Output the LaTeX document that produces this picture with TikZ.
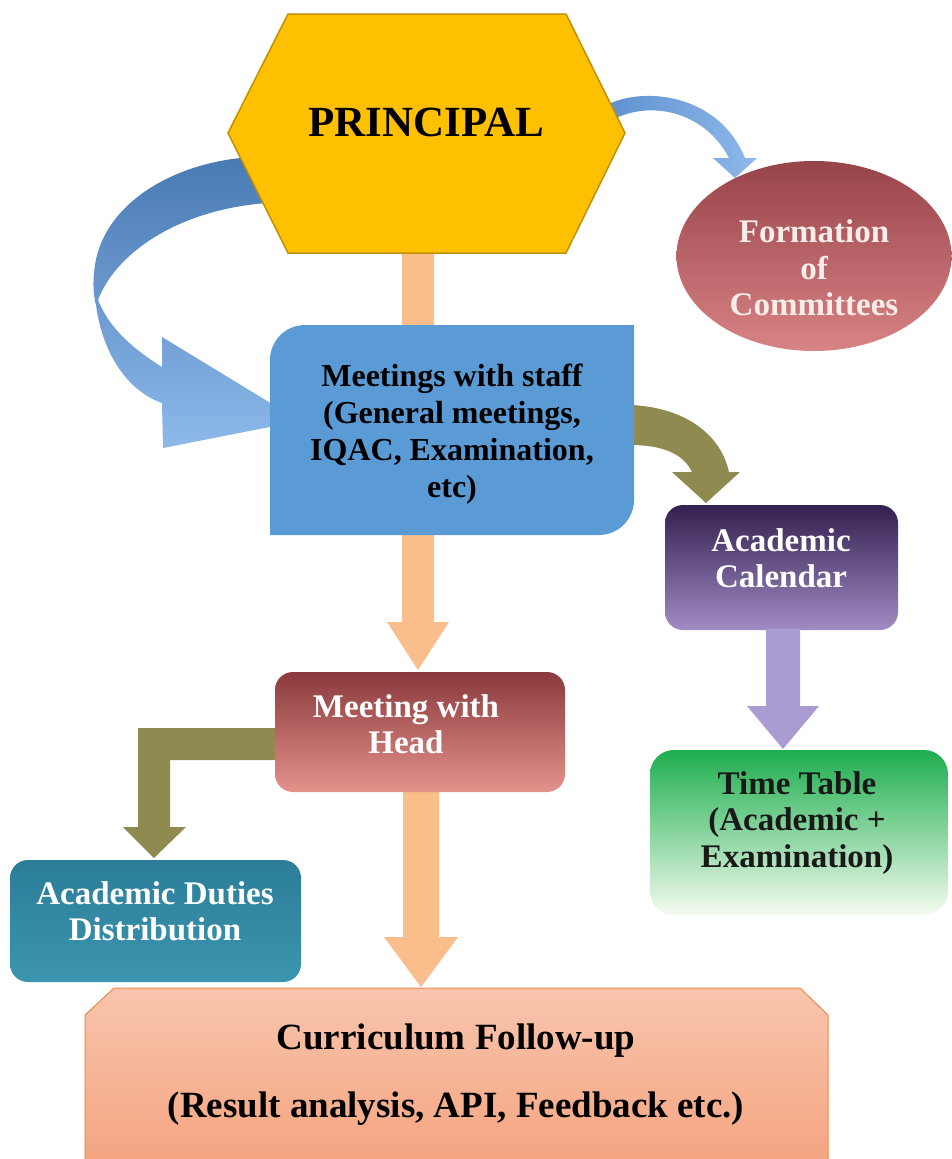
\documentclass[tikz,border=0pt]{standalone}
\usepackage{fontspec}
\setmainfont{Liberation Serif}
\usetikzlibrary{shapes.geometric,calc}
\definecolor{hexfill}{HTML}{FFC000}
\definecolor{hexline}{HTML}{BF9000}
\definecolor{bigtop}{HTML}{4A7AB4}
\definecolor{bigbot}{HTML}{8DB9EA}
\definecolor{smallA}{HTML}{5F90CF}
\definecolor{smallB}{HTML}{8DB9EA}
\definecolor{orng}{HTML}{F9BE8B}
\definecolor{meetblue}{HTML}{5B9BD5}
\definecolor{olive}{HTML}{8F8A50}
\definecolor{formtop}{HTML}{97434A}
\definecolor{formbot}{HTML}{D88485}
\definecolor{formtxt}{HTML}{F8EDE8}
\definecolor{caltop}{HTML}{33204F}
\definecolor{calbot}{HTML}{A08CC4}
\definecolor{purp}{HTML}{AA9BD2}
\definecolor{tttop}{HTML}{1DAE4E}
\definecolor{ttmid}{HTML}{A3DB8F}
\definecolor{ttbot}{HTML}{F4FBEF}
\definecolor{mhtop}{HTML}{8A3A3C}
\definecolor{mhbot}{HTML}{E4928C}
\definecolor{adtop}{HTML}{2B7D98}
\definecolor{adbot}{HTML}{3C95AF}
\definecolor{currtop}{HTML}{F8C5AD}
\definecolor{currbot}{HTML}{F4A37F}
\definecolor{currline}{HTML}{F0894A}
\newcommand\blkdown[6]{\fill[#1] let \p1=(#2), \p2=(#3) in
  (\x1-#4,\y1) -- (\x1-#4,\y2+#6) -- (\x1-#5,\y2+#6) -- (\x1,\y2)
  -- (\x1+#5,\y2+#6) -- (\x1+#4,\y2+#6) -- (\x1+#4,\y1) -- cycle;}
\tikzset{
  txt/.style={font=\bfseries\fontsize{33}{36.5}\selectfont, align=center, inner sep=0pt},
  boxbase/.style={rectangle, rounded corners=18pt, inner sep=0pt},
}
\begin{document}
\begin{tikzpicture}[x=1pt,y=-1pt]
\useasboundingbox (0,0) rectangle (952,1159);
\fill[white] (0,0) rectangle (952,1159);

% big curved blue ribbon arrow (principal -> meetings)
\path[top color=bigtop, bottom color=bigbot]
  (255,157) .. controls (180,160) and (105,200) .. (95,265)
  .. controls (92,285) and (94,298) .. (96,305)
  .. controls (102,350) and (125,390) .. (162,403)
  -- (163,448) -- (300,421) -- (162,337) -- (162,367)
  .. controls (135,350) and (110,330) .. (98,300)
  .. controls (115,255) and (175,210) .. (267,203) -- cycle;

% small curved blue arrow (principal -> committees)
\path[left color=smallA, right color=smallB]
  (605,106) .. controls (640,86) and (718,92) .. (745,158)
  -- (757,158) -- (735,178) -- (713,158) -- (729,158)
  .. controls (705,112) and (652,100) .. (614,119) -- cycle;

% anchors
\coordinate (prinS) at (418,250);
\node[boxbase, minimum width=290pt, minimum height=120pt] (mhead) at (420,732) {};

% upper orange arrow
\coordinate (mheadN) at (418,670);
\blkdown{orng}{prinS}{mheadN}{16pt}{31pt}{48pt}

% hexagon
\path[fill=hexfill, draw=hexline, line width=1.5pt]
  (288,14) -- (566,14) -- (625,133) -- (566,253) -- (288,253) -- (228,133) -- cycle;
\node[inner sep=0pt, font=\bfseries\fontsize{43}{48}\selectfont] (prin) at (426,122) {PRINCIPAL};

% olive curved arrow (meetings -> calendar)
\path[fill=olive]
  (630,405) .. controls (682,407) and (720,432) .. (729,472)
  -- (740,472) -- (706,503) -- (672,472) -- (692,472)
  .. controls (684,455) and (665,445) .. (630,445) -- cycle;

% meetings box
\path[fill=meetblue]
  (305,325) -- (634,325) -- (634,500) .. controls (634,519.3) and (618.3,535) .. (599,535)
  -- (270,535) -- (270,360) .. controls (270,340.7) and (285.7,325) .. (305,325) -- cycle;
\node[txt, font=\bfseries\fontsize{32}{37}\selectfont] (meet) at (452,434)
  {Meetings with staff\\(General meetings,\\IQAC, Examination,\\etc)};

% formation of committees
\node[ellipse, inner sep=0pt, minimum width=275pt, minimum height=190pt,
  top color=formtop, bottom color=formbot] (form) at (814,256) {};
\node[txt, text=formtxt] (formT) at (814,268) {Formation\\of\\Committees};

% academic calendar
\node[boxbase, minimum width=233pt, minimum height=125pt,
  top color=caltop, bottom color=calbot] (cal) at (781.5,567.5) {};
\node[txt, text=white] (calT) at (781,558) {Academic\\Calendar};

% purple arrow
\coordinate (calS) at (783,629);
\coordinate (ttN) at (783,749);
\blkdown{purp}{calS}{ttN}{17pt}{36pt}{43pt}

% time table
\node[boxbase, rounded corners=24pt, minimum width=298pt, minimum height=165pt,
  top color=tttop, middle color=ttmid, bottom color=ttbot] (tt) at (799,832.5) {};
\node[txt, text=black!90] (ttT) at (797,823) {Time Table\\(Academic +\\Examination)};

% olive L arrow (head meeting -> duties)
\path[fill=olive]
  (280,728) -- (138,728) -- (138,827) -- (123,827) -- (154,858) -- (186,827)
  -- (170,827) -- (170,760) -- (280,760) -- cycle;

% lower orange arrow
\coordinate (mheadS) at (421,790);
\coordinate (currN) at (421,987);
\blkdown{orng}{mheadS}{currN}{18pt}{37pt}{50pt}

% meeting with head (drawn over arrows)
\node[boxbase, minimum width=290pt, minimum height=120pt,
  top color=mhtop, bottom color=mhbot] at (mhead) {};
\node[txt, text=white] (mheadT) at (406,724) {Meeting with\\Head};

% academic duties
\node[boxbase, minimum width=291pt, minimum height=122pt,
  top color=adtop, bottom color=adbot] (ad) at (155.5,921) {};
\node[txt, text=white] (adT) at (155,911) {Academic Duties\\Distribution};

% curriculum
\path[top color=currtop, bottom color=currbot, draw=currline, line width=1pt]
  (114,988) -- (800,988) -- (828,1015) -- (828,1170) -- (85,1170) -- (85,1015) -- cycle;
\node[txt, font=\bfseries\fontsize{37}{68}\selectfont] (curr) at (456,1075)
  {Curriculum Follow-up\\(Result analysis, API, Feedback etc.)};
\end{tikzpicture}
\end{document}
